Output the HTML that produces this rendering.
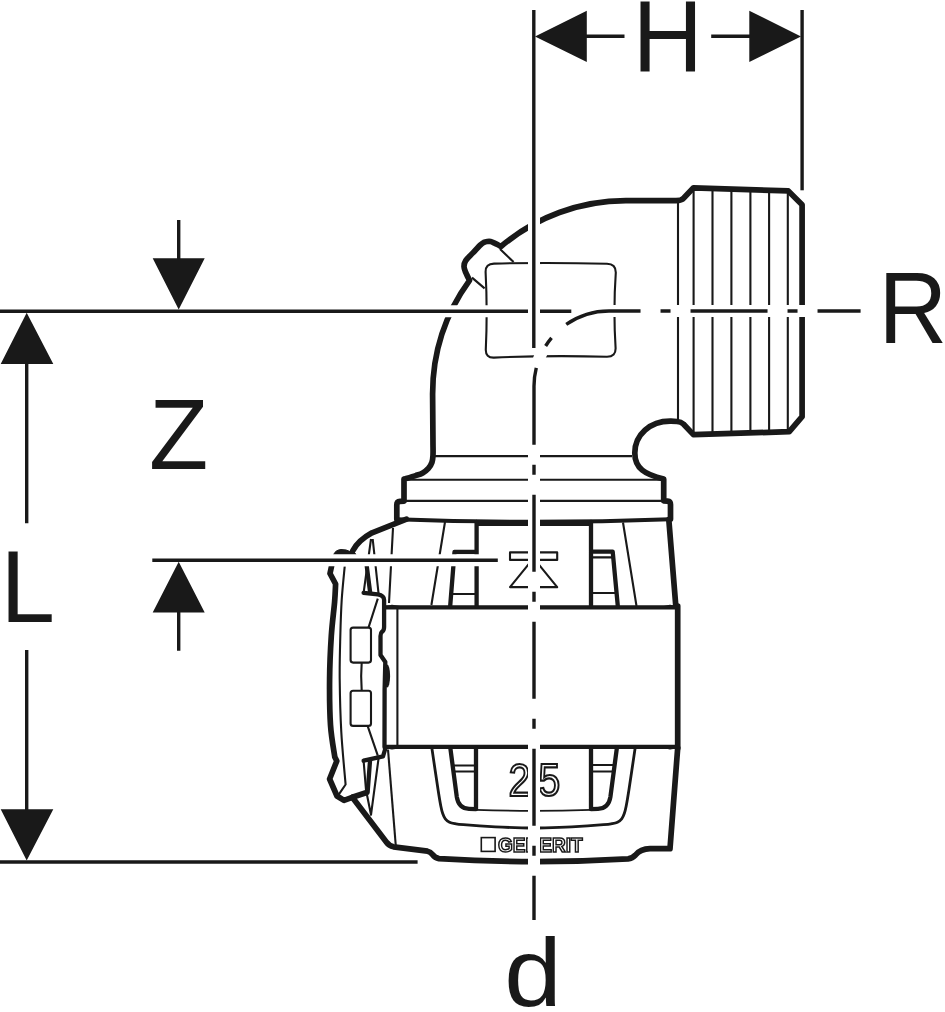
<!DOCTYPE html>
<html lang="en">
<head>
<meta charset="utf-8">
<title>Geberit elbow adapter dimension drawing</title>
<style>
html,body{margin:0;padding:0;background:#fff;}
svg{display:block;will-change:transform;}
.k{fill:none;stroke:#191919;stroke-width:5.7;stroke-linejoin:round;stroke-linecap:round;}
.k2{fill:none;stroke:#191919;stroke-width:4.3;stroke-linejoin:round;stroke-linecap:round;}
.m{fill:none;stroke:#191919;stroke-width:2.8;stroke-linejoin:round;stroke-linecap:round;}
.t{fill:none;stroke:#191919;stroke-width:2.1;stroke-linejoin:round;stroke-linecap:butt;}
.d{fill:none;stroke:#191919;stroke-width:3.4;stroke-linecap:butt;}
.h{fill:none;stroke:#fff;stroke-width:12;stroke-linecap:butt;}
.a{fill:#191919;stroke:none;}
.lbl{font-family:"Liberation Sans",Arial,Helvetica,sans-serif;font-size:97px;fill:#191919;}
.ol{font-family:"Liberation Sans",Arial,Helvetica,sans-serif;fill:#fff;stroke:#191919;}
</style>
</head>
<body>
<svg width="945" height="1012" viewBox="0 0 945 1012">
<rect width="945" height="1012" fill="#fff"/>

<!-- ===== ELBOW ===== -->
<g id="elbow">
<path class="k" d="M396.8,519 L396.8,504.8 Q396.8,501.6 400,501.4 L404,501.1 L404,479.1 C405.93,478.52 412.48,476.63 415.60,475.60 C418.72,474.57 420.57,474.10 422.70,472.90 C424.83,471.70 426.85,470.18 428.40,468.40 C429.95,466.62 431.23,464.42 432.00,462.20 C432.77,459.98 432.83,457.97 433.00,455.10 C433.17,452.23 433.00,446.68 433.00,445.00 L432.6,394 A193.4,193.4 0 0 1 469.54,280.32 C468.90,279.00 466.62,274.70 465.70,272.40 C464.78,270.10 464.00,268.47 464.00,266.50 C464.00,264.53 464.22,262.87 465.70,260.60 C467.18,258.33 470.43,255.52 472.90,252.90 C475.37,250.28 478.67,246.65 480.50,244.90 C482.33,243.15 482.77,242.97 483.90,242.40 C485.03,241.83 486.18,241.65 487.30,241.50 C488.42,241.35 489.48,241.28 490.60,241.50 C491.72,241.72 492.87,242.30 494.00,242.80 C495.13,243.30 496.25,243.88 497.40,244.50 C498.55,245.12 500.33,246.17 500.91,246.50 A193.4,193.4 0 0 1 625.9,200.6 L676,200.6 Q681.5,200.6 684,197.8 L693.5,187.8 L788.3,190.9 L802.1,204.8 L802.1,416.7 L789.3,431.7 L693.4,434.6 L683.4,424 Q681,421.8 677,421.5 L671,421.2 C650,420.8 634.8,435 634.8,453 C634.8,468.5 645,474.5 663.7,479 L663.7,500.8 L667.5,501.2 Q670.5,501.5 670.5,504.5 L670.5,519"/>
<!-- flange bottom -->
<path class="k" d="M396.3,519.2 Q534,524.2 670.5,519.2" style="stroke-width:3.9"/>
<!-- neck thin lines -->
<path class="t" d="M435,456.1 L632,456.1 M406,479.8 L661,479.8 M399,500.9 L663,500.9"/>
<!-- lug thin lines -->
<path class="t" d="M500,249.1 L513.6,262 M472,277.6 L484.6,288.4"/>
<!-- rounded window -->
<path class="t" d="M494,263.6 Q550,262.2 607,263.8 Q615.8,264 615.8,272.5 Q613.2,310 615.6,348 Q615.9,356.8 607,356.8 Q550,355.2 494,357.6 Q485.6,357.9 485.8,349.5 Q487.6,310 485.6,272 Q485.4,263.8 494,263.6 Z"/>
<!-- thread lines -->
<path class="t" d="M678,200.3 L678,421.4 M693.6,188 L693.6,434.3 M712.5,189 L712.5,433.8 M731.4,189.6 L731.4,433.2 M750.4,190.3 L750.4,432.7 M769.1,191 L769.1,432.2 M787.8,191.7 L787.8,431.7"/>
</g>

<!-- ===== COUPLING ===== -->
<g id="coupling">
<path class="k2" d="M477,524.4 L590.6,524.4" style="stroke-width:3;stroke-linecap:butt"/>
<!-- shoulder left + clip outer contour -->
<path class="k" d="M406.5,519.2 L372,532.8 Q358,540.5 352.8,550.8"/>
<path d="M333.6,554.6 Q335.5,550 341,549.5 Q346.5,549.4 350.2,551.6 L352,549 L356,554.6 Z" fill="#191919" stroke="#191919" stroke-width="1" stroke-linejoin="round"/>
<path class="k" d="M331.6,566 L330,573.5 L335.6,584 C335.43,587.00 335.32,593.33 334.60,602.00 C333.88,610.67 332.13,623.17 331.30,636.00 C330.47,648.83 329.73,664.17 329.60,679.00 C329.47,693.83 329.63,712.00 330.50,725.00 C331.37,738.00 334.08,751.67 334.80,757.00 L336.8,761 L329.6,779 L337,796 L344,800.4 L352.3,797.3 L366,792.8"/>
<!-- bottom contour -->
<path class="k" d="M352.3,797.3 L386.3,842 Q389,845.8 393.5,846.8 L427.5,851.2 Q430.5,851.8 432.5,854.5 Q435,857.8 439,858.6 Q534,864.4 628,858.8 Q632.5,858.3 635.5,855 Q640.5,849 650,848.7 L670,848.7 L677.7,748"/>
<!-- right side above band -->
<path class="k" d="M668.8,519.5 L675.8,606"/>
<!-- band -->
<path class="k2" d="M386,607.3 L676,607.3 M386,746.9 L676,746.9"/>
<path class="k" d="M677.7,606 L677.7,748"/>
<path class="k2" d="M385,607.3 L392,606 L400,607.3 Z M385,746.9 L392,748.2 L400,746.9 Z" style="fill:#191919;stroke-width:2.5"/>
<path class="k2" d="M677,607.3 L670,606 L664,607.3 Z M677,746.9 L670,748.2 L664,746.9 Z" style="fill:#191919;stroke-width:2.5"/>
<path class="t" d="M397.4,608 L397.4,746"/>
<!-- left thick wiggle along band -->
<path class="k2" d="M363.6,592.8 L377.8,594.4 Q384.1,595.5 384.1,600 L384.1,627 Q384.1,630.5 382,631.8 Q380.5,633 380.5,636 L380.5,655 L385.3,662 L384.6,690 L384.5,746.9 L385.2,749 L383,756.3 L363.6,760.7"/>
<ellipse cx="387.2" cy="676" rx="2.9" ry="11.5" fill="#191919"/>
<!-- ribs upper -->
<path class="k2" d="M476.6,522 L476.6,606 M454.5,552 L476.6,552 M454.5,552 L450.2,606"/>
<path class="k2" d="M591,522 L591,606 M591,551.6 L612.7,551.6 L617.8,606"/>
<path class="t" d="M451.5,594 L476.6,594 M454,557.6 L476.6,557.6 M591,557.4 L613,557.4 M591,593 L616.5,593"/>
<path class="t" d="M445,522 L431.4,605 M393,528 L389,603 M623,522.5 L636.5,606"/>
<!-- pockets lower -->
<path class="k2" d="M450.4,748.5 L456.8,797 Q458.6,808.4 469,808.9 L476,809.2 L476,748.5"/>
<path class="k2" d="M591,748.5 L591,809.2 L598,808.9 Q608.6,808.4 610.4,797 L616.8,748.5"/>
<path class="t" d="M453.3,765.5 L476,765.5 M454.1,771.5 L476,771.5 M591,765 L614,765 M591,771.5 L613.2,771.5"/>
<path class="t" d="M476,809.8 Q534,811.8 591,809.8" style="stroke-width:1.8"/>
<!-- inner U curve -->
<path class="m" d="M432.00,749.00 C433.02,755.83 436.63,780.50 438.10,790.00 C439.57,799.50 440.03,802.08 440.80,806.00 C441.57,809.92 441.95,811.37 442.70,813.50 C443.45,815.63 444.17,817.35 445.30,818.80 C446.43,820.25 447.88,821.38 449.50,822.20 C451.12,823.02 452.67,823.28 455.00,823.70 C457.33,824.12 456.78,824.18 463.50,824.70 C470.22,825.22 485.55,826.27 495.30,826.80 C505.05,827.33 515.63,827.70 522.00,827.90 C528.37,828.10 529.67,828.00 533.50,828.00 C537.33,828.00 538.63,828.10 545.00,827.90 C551.37,827.70 561.95,827.33 571.70,826.80 C581.45,826.27 596.78,825.22 603.50,824.70 C610.22,824.18 609.67,824.12 612.00,823.70 C614.33,823.28 615.88,823.02 617.50,822.20 C619.12,821.38 620.57,820.25 621.70,818.80 C622.83,817.35 623.55,815.63 624.30,813.50 C625.05,811.37 625.43,809.92 626.20,806.00 C626.97,802.08 627.43,799.50 628.90,790.00 C630.37,780.50 633.98,755.83 635.00,749.00"/>
<!-- thin slanted lines lower -->
<path class="t" d="M388,749.5 L395.8,846"/>
<!-- clip inner details -->
<path class="t" d="M344.70,566.50 C344.20,572.08 342.43,588.33 341.70,600.00 C340.97,611.67 340.63,623.33 340.30,636.50 C339.97,649.67 339.53,663.08 339.70,679.00 C339.87,694.92 340.32,714.42 341.30,732.00 C342.28,749.58 344.88,775.75 345.60,784.50 L338.7,794.6"/>
<path class="t" d="M371,539 L363.6,592.8 M372.7,539 L378.7,595 M377.8,598.6 L368.5,627.6 M361.7,662.5 Q360.6,676 361.7,690.7 M367.6,725.9 L377.8,755.6"/>
<path class="k2" d="M366.8,566.5 L370.2,592.8 M370,761 L367.6,792.5"/>
<path class="t" d="M363.6,760.7 L366,790 L371,814.8 L378.7,757.3"/>
<rect class="t" x="350.6" y="627.6" width="20.4" height="35" rx="2.5" ry="2.5"/>
<rect class="t" x="350.6" y="690.7" width="20.4" height="35.2" rx="2.5" ry="2.5"/>
<!-- flow symbol -->
<path class="t" d="M510,552.4 H557.2 V559.9 H510 Z M510,587.1 L533.6,558.2 L557.2,587.1 Z"/>
<!-- size marking -->
<text class="ol" x="0" y="0" font-size="46" stroke-width="2.2" transform="translate(508.4,796) scale(0.86,1)">2</text>
<text class="ol" x="0" y="0" font-size="46" stroke-width="2.2" transform="translate(538.2,796) scale(0.86,1)">5</text>
<!-- brand -->
<rect x="481.3" y="837.6" width="13.8" height="13.8" fill="#fff" stroke="#191919" stroke-width="1.6"/>
<text class="ol" x="498" y="851.6" font-size="19.4" font-weight="bold" stroke-width="1.5" textLength="84.6" lengthAdjust="spacingAndGlyphs">GEBERIT</text>
</g>

<!-- ===== DIMENSION / CENTRE LINES ===== -->
<g id="dims">
<path class="h" d="M0,311.2 H574"/>
<path class="d" d="M0,311.2 H571.3"/>
<path class="h" d="M534,921 V386.2 A75,75 0 0 1 609,311 H862"/>
<path class="d" stroke-dasharray="77 20 10 20" stroke-dashoffset="32.7" d="M534,920 V386.2 A75,75 0 0 1 539.92,357"/>
<path class="d" stroke-dasharray="77 20 10 20" stroke-dashoffset="84.6" d="M539.92,357 A75,75 0 0 1 609,311 H860.6"/>
<path class="h" d="M534,8 V350"/>
<path class="d" d="M533.8,10 V348"/>
<path class="d" d="M802.1,10 V190.3"/>
<path class="d" d="M586,36.3 H624.5 M711.2,36.3 H750"/>
<path class="a" d="M535,36.4 L586.8,10.7 L586.8,62.1 Z M801,36.4 L749.3,10.7 L749.3,62.1 Z"/>
<path class="h" d="M300,560.2 H500"/>
<path class="d" d="M152.3,560.2 H497.8"/>
<path class="d" d="M0,862 H417.6"/>
<path class="d" d="M178.7,220 V260 M178.7,611 V650.7"/>
<path class="a" d="M178.7,309.6 L152.7,258.3 L204.7,258.3 Z M178.7,561.8 L152.7,612.4 L204.7,612.4 Z"/>
<path class="d" d="M26.7,362 V523.3 M26.7,650 V811"/>
<path class="a" d="M26.7,312.8 L0.7,364 L53.3,364 Z M26.7,860.4 L0.7,809.3 L53.3,809.3 Z"/>
<text class="lbl" transform="translate(632.4,71.6) scale(1.007,1.06)">H</text>
<text class="lbl" transform="translate(878.4,342.8) scale(0.98,1.049)">R</text>
<text class="lbl" transform="translate(149,469.3) scale(1.0,1.034)">Z</text>
<text class="lbl" transform="translate(0.6,621.6) scale(1.01,1.055)">L</text>
<text class="lbl" transform="translate(504.2,1005.6) scale(1.065,1)">d</text>
</g>
</svg>
</body>
</html>
